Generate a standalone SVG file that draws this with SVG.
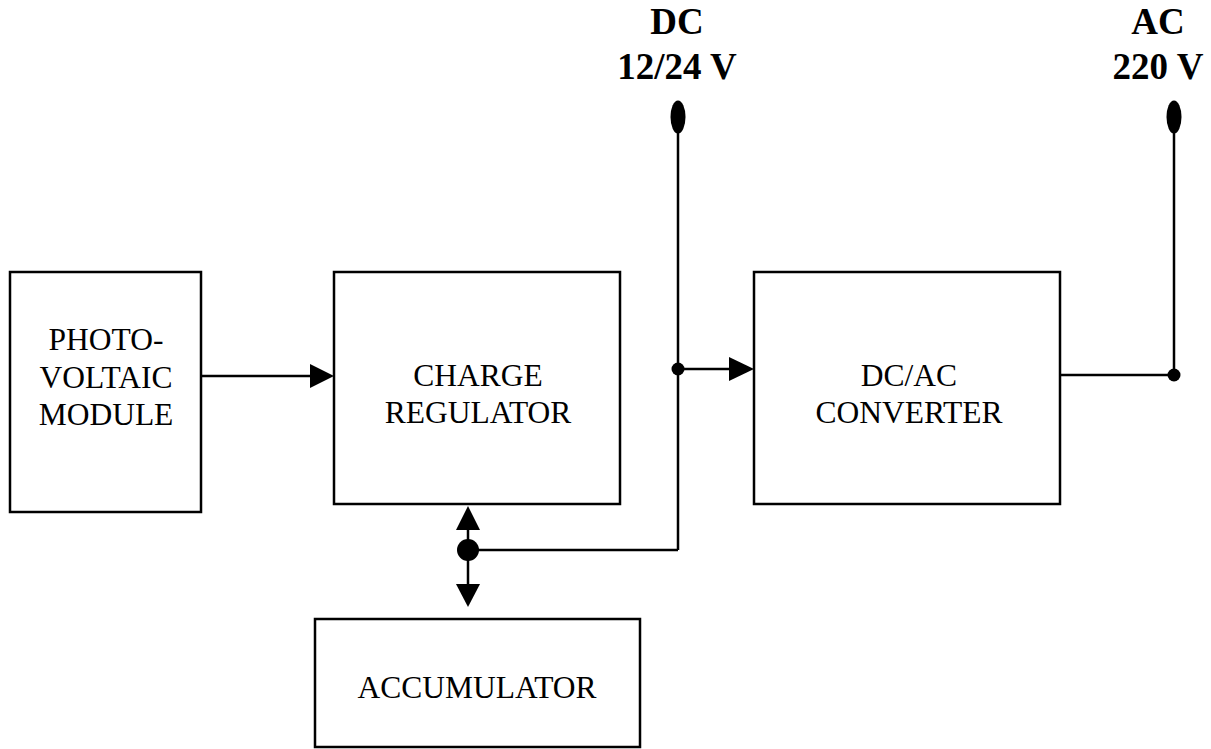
<svg xmlns="http://www.w3.org/2000/svg" width="1211" height="749" viewBox="0 0 1211 749">
<style>
.box{fill:#fff;stroke:#000;stroke-width:2.5}
.ln{fill:none;stroke:#000;stroke-width:2.5}
.t{font-family:"Liberation Serif","Times New Roman",serif;font-size:31.5px;text-anchor:middle;fill:#000}
.b{font-family:"Liberation Serif","Times New Roman",serif;font-size:37px;font-weight:bold;text-anchor:middle;fill:#000}
</style>
<g id="connectors">
<line class="ln" x1="201" y1="376" x2="312" y2="376"/>
<polygon points="310,364 334,376 310,388"/>
<line class="ln" x1="678" y1="133" x2="678" y2="550"/>
<line class="ln" x1="468" y1="550" x2="678" y2="550"/>
<line class="ln" x1="468" y1="528" x2="468" y2="586"/>
<polygon points="456,530 468,506 480,530"/>
<polygon points="456,584 468,607 480,584"/>
<circle cx="468" cy="550" r="11"/>
<line class="ln" x1="678" y1="369" x2="732" y2="369"/>
<polygon points="729,357 754,369 729,381"/>
<circle cx="678" cy="369" r="6.5"/>
<line class="ln" x1="1060" y1="375" x2="1174" y2="375"/>
<line class="ln" x1="1174" y1="133" x2="1174" y2="375"/>
<circle cx="1174" cy="375" r="6.5"/>
</g>
<g id="dc-terminal">
<ellipse cx="678" cy="117" rx="7.5" ry="16.5"/>
<text class="b" x="677" y="34">DC</text>
<text class="b" x="677" y="79">12/24 V</text>
</g>
<g id="ac-terminal">
<ellipse cx="1174" cy="117" rx="7.5" ry="16.5"/>
<text class="b" x="1158" y="34">AC</text>
<text class="b" x="1158" y="79">220 V</text>
</g>
<g id="pv-module">
<rect class="box" x="10" y="272" width="191" height="240"/>
<text class="t" x="106" y="350">PHOTO-</text>
<text class="t" x="106" y="388">VOLTAIC</text>
<text class="t" x="106" y="425">MODULE</text>
</g>
<g id="charge-regulator">
<rect class="box" x="334" y="272" width="286" height="232"/>
<text class="t" x="478" y="386">CHARGE</text>
<text class="t" x="478" y="423">REGULATOR</text>
</g>
<g id="converter">
<rect class="box" x="754" y="272" width="306" height="232"/>
<text class="t" x="909" y="386">DC/AC</text>
<text class="t" x="909" y="423">CONVERTER</text>
</g>
<g id="accumulator">
<rect class="box" x="315" y="619" width="325" height="128"/>
<text class="t" x="477" y="698">ACCUMULATOR</text>
</g>
</svg>
